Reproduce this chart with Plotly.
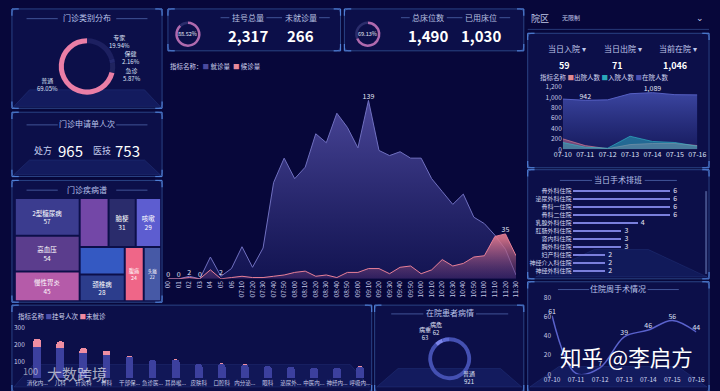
import plotly.graph_objects as go

W, H = 720, 391
BG = "#07073a"
PANEL_FILL = "rgba(16,22,86,0.55)"
BORDER = "#2a4384"
TXT = "#c3cbee"
FONT = "Noto Sans CJK SC"

# ---------------- data ----------------
clinic_types = ["专家", "保健", "急诊", "普通"]
clinic_type_pct = [19.94, 2.16, 5.87, 69.05]

kpi_reg_labels = ["挂号总量", "未就诊量"]
kpi_reg_values = [2317, 266]
kpi_reg_rate = 88.52
kpi_bed_labels = ["总床位数", "已用床位"]
kpi_bed_values = [1490, 1030]
kpi_bed_rate = 69.13

apply_labels = ["处方", "医技"]
apply_values = [965, 753]

disease_names = ["2型糖尿病", "高血压", "慢性胃炎", "冠心病", "脑梗", "咳嗽",
                 "上呼吸道感染", "颈椎病", "腹痛", "头痛"]
disease_values = [57, 54, 45, 33, 31, 29, 29, 28, 24, 22]
disease_show = [True, True, True, False, True, True, False, True, True, True]

times = ["00", "01", "02", "03", "04", "05", "06", "07:10", "07:20", "07:30",
         "07:40", "07:50", "08:00", "08:10", "08:20", "08:30", "08:40", "08:50",
         "09:00", "09:10", "09:20", "09:30", "09:40", "09:50", "10:00", "10:10",
         "10:20", "10:30", "10:40", "10:50", "11:00", "11:10", "11:20", "11:30"]
visits = [0, 0, 2, 0, 17, 2, 8, 25, 9, 24, 75, 94, 78, 87, 113, 106, 129, 118,
          102, 139, 100, 96, 99, 94, 94, 78, 68, 58, 66, 48, 43, 34, 23, 3]
waiting = [0, 0, 1, 0, 7, 0, 1, 2, 1, 1, 2, 3, 5, 6, 2, 3, 1, 5, 5, 8, 8, 4, 9,
           10, 4, 7, 15, 10, 12, 17, 18, 33, 35, 18]
visits_label_idx = [0, 1, 2, 3, 5, 19]
waiting_label_idx = [32]

today_labels = ["当日入院", "当日出院", "当前在院"]
today_values = [59, 71, 1046]
days = ["07-10", "07-11", "07-12", "07-13", "07-14", "07-15", "07-16"]
inpatients = [965, 942, 950, 1068, 1089, 1050, 1046]
discharged = [200, 70, 10, 90, 110, 110, 71]
admitted = [130, 40, 20, 250, 150, 130, 59]
inpatient_label_idx = [1, 4]

surg_depts = ["骨外科住院", "泌尿外科住院", "骨科一住院", "骨科二住院", "乳腺外科住院",
              "肛肠外科住院", "肾内科住院", "胸外科住院", "妇产科住院", "神经介入科住院", "神经外科住院"]
surg_ops = [6, 6, 6, 6, 4, 3, 3, 3, 2, 2, 2]

week_ops = [61, 1, 7, 39, 46, 56, 44]
week_label_hide = [1]

dept_names = ["消化内...", "儿科", "针灸科", "骨科", "干部保...", "急诊医...", "耳鼻喉...",
              "皮肤科", "口腔科", "内分泌...", "眼科", "泌尿外...", "中医内...", "神经内...", "呼吸内..."]
registered = [183, 179, 150, 139, 128, 107, 106, 83, 83, 80, 72, 67, 61, 61, 67]
not_seen = [50, 39, 28, 24, 3, 3, 6, 0, 5, 3, 0, 2, 0, 0, 3]

cond_labels = ["普通", "病重", "病危"]
cond_values = [921, 63, 62]

# ---------------- helpers ----------------
def X(px):
    return px / W


def Y(py):
    return 1 - py / H


shapes = []
annotations = []


def ann(x, y, text, size=7, color=TXT, xanchor="center", yanchor="middle", family=FONT):
    annotations.append(dict(x=X(x), y=Y(y), xref="paper", yref="paper", text=text,
                            showarrow=False, font=dict(size=size, color=color, family=family),
                            xanchor=xanchor, yanchor=yanchor))


def hline(x0, x1, y, color="rgba(110,140,215,0.55)", width=1):
    shapes.append(dict(type="line", xref="paper", yref="paper", x0=X(x0), x1=X(x1),
                       y0=Y(y), y1=Y(y), line=dict(color=color, width=width), layer="below"))


def panel(x0, y0, x1, y1, r=4):
    path = (f"M {X(x0 + r)},{Y(y0)} L {X(x1 - r)},{Y(y0)} Q {X(x1)},{Y(y0)} {X(x1)},{Y(y0 + r)} "
            f"L {X(x1)},{Y(y1 - r)} Q {X(x1)},{Y(y1)} {X(x1 - r)},{Y(y1)} "
            f"L {X(x0 + r)},{Y(y1)} Q {X(x0)},{Y(y1)} {X(x0)},{Y(y1 - r)} "
            f"L {X(x0)},{Y(y0 + r)} Q {X(x0)},{Y(y0)} {X(x0 + r)},{Y(y0)} Z")
    shapes.append(dict(type="path", path=path, xref="paper", yref="paper",
                       fillcolor=PANEL_FILL, line=dict(color=BORDER, width=1), layer="below"))
    c = "#4f7fd6"
    for (cx, cy, dx, dy) in [(x0, y0, 1, 1), (x1, y0, -1, 1), (x0, y1, 1, -1), (x1, y1, -1, -1)]:
        shapes.append(dict(type="line", xref="paper", yref="paper", x0=X(cx), x1=X(cx + 7 * dx),
                           y0=Y(cy), y1=Y(cy), line=dict(color=c, width=1.2), layer="below"))
        shapes.append(dict(type="line", xref="paper", yref="paper", x0=X(cx), x1=X(cx),
                           y0=Y(cy), y1=Y(cy + 7 * dy), line=dict(color=c, width=1.2), layer="below"))


def floor(x0, x1, ytop, ybot, inset=16, alpha=0.22):
    path = (f"M {X(x0 + inset)},{Y(ytop)} L {X(x1 - inset)},{Y(ytop)} "
            f"L {X(x1)},{Y(ybot)} L {X(x0)},{Y(ybot)} Z")
    shapes.append(dict(type="path", path=path, xref="paper", yref="paper",
                       fillcolor=f"rgba(45,75,170,{alpha})", line=dict(color="rgba(80,120,210,0.25)", width=0.6),
                       layer="below"))


def title(xc, y, text, half=62, gap=30):
    ann(xc, y, text, size=8, color="#b9c3ea")
    hline(xc - half, xc - gap, y + 1)
    hline(xc + gap, xc + half, y + 1)


# ---------------- panels ----------------
panel(3, 3, 157, 105)
panel(163, 3, 340, 46)
panel(344, 3, 528, 46)
panel(3, 109, 157, 175)
panel(3, 179, 157, 304)
panel(532, 28, 718, 166)
panel(532, 168, 718, 280)
panel(532, 283, 718, 396)
panel(3, 307, 372, 396)
panel(375, 307, 528, 396)
hline(532, 718, 24, color="rgba(60,90,160,0.6)")

floor(5, 155, 86, 103)
floor(5, 155, 158, 173)
floor(540, 716, 250, 278, inset=60, alpha=0.18)
floor(534, 716, 370, 391, inset=30)
floor(377, 526, 372, 391, inset=22)
floor(5, 370, 368, 391, inset=20, alpha=0.15)

fig = go.Figure()

# ---------------- 门诊类别分布 ----------------
title(80, 12, "门诊类别分布")
fig.add_trace(go.Pie(labels=clinic_types, values=clinic_type_pct, hole=0.82, sort=False,
                     direction="clockwise", rotation=0, textinfo="none", textposition="none",
                     marker=dict(colors=["#1d2060", "#252a6e", "#20245f", "#ea7ea6"], line=dict(width=0)),
                     domain=dict(x=[X(51), X(109)], y=[Y(91), Y(33)]), showlegend=False))
pie_lbl_pos = [(113, 36), (125, 53), (126, 70), (39, 81)]
for name, pct, (lx, ly) in zip(clinic_types, clinic_type_pct, pie_lbl_pos):
    ann(lx, ly, f"{name}<br>{pct:.2f}%", size=6, color="#dfe3f8")

# ---------------- KPI cards ----------------
def kpi(cx_donut, rate, labels, values, lx):
    fig.add_trace(go.Pie(values=[rate, 100 - rate], hole=0.8, sort=False, direction="clockwise",
                         rotation=0, textinfo="none", textposition="none",
                         marker=dict(colors=["#b06aae", "#2b2d6c"], line=dict(width=0)),
                         domain=dict(x=[X(cx_donut - 13), X(cx_donut + 13)], y=[Y(42), Y(16)]),
                         showlegend=False))
    ann(cx_donut, 29, f"{rate:.2f}%", size=5.5, color="#e8e8f8")
    for lab, val, x in zip(labels, values, lx):
        ann(x, 12, lab, size=8, color="#b8c0e0")
        ann(x, 30, f"<b>{val:,}</b>", size=15, color="#ffffff")
    hline(lx[0] - 28, lx[0] - 19, 12)
    hline(lx[0] + 19, lx[1] - 19, 12)
    hline(lx[1] + 19, lx[1] + 30, 12)


kpi(183.5, kpi_reg_rate, kpi_reg_labels, kpi_reg_values, [245, 299])
kpi(368, kpi_bed_rate, kpi_bed_labels, kpi_bed_values, [430, 484])

# ---------------- 门诊申请单人次 ----------------
title(80, 121, "门诊申请单人次")
ann(35, 148, apply_labels[0], size=9, color="#c8d0f0")
ann(48, 148, f"{apply_values[0]}", size=15, color="#ffffff", xanchor="left")
ann(95, 148, apply_labels[1], size=9, color="#c8d0f0")
ann(107, 148, f"{apply_values[1]}", size=15, color="#ffffff", xanchor="left")

# ---------------- 门诊疾病谱 treemap ----------------
title(80, 188, "门诊疾病谱")
root = "门诊疾病谱"
tm_colors = ["rgba(0,0,0,0)", "#3b3c8f", "#5b3d8d", "#b55ba9", "#7347a7", "#2a2c6c",
             "#5d5dd0", "#3459c2", "#2c3d8c", "#ef6688", "#4659a6"]
tm_text = [""] + ["%{label}<br>%{value}" if s else "" for s in disease_show]
fig.add_trace(go.Treemap(labels=[root] + disease_names, parents=[""] + [root] * len(disease_names),
                         values=[0] + disease_values, branchvalues="remainder",
                         texttemplate=tm_text, textposition="middle center",
                         textfont=dict(size=6.5, color="#ffffff", family=FONT),
                         marker=dict(colors=tm_colors, line=dict(width=0), pad=dict(t=0, l=0, r=0, b=0)),
                         tiling=dict(packing="squarify", squarifyratio=1.618, pad=2),
                         pathbar=dict(visible=False), sort=True,
                         domain=dict(x=[X(7), X(155)], y=[Y(302), Y(198)])))

# ---------------- main area chart ----------------
ann(163, 62, "指标名称：<span style='color:#4a4a9e'>■</span> 就诊量  <span style='color:#e88a9a'>■</span> 候诊量",
    size=6.5, color="#d0d4f0", xanchor="left")
fig.add_trace(go.Scatter(x=times, y=visits, mode="lines+text",
                         text=[str(v) if i in visits_label_idx else "" for i, v in enumerate(visits)],
                         textposition="top center", textfont=dict(size=7, color="#e4e6f6"),
                         line=dict(color="#7070c0", width=1), fill="tozeroy",
                         fillgradient=dict(type="vertical", start=0, stop=139,
                                           colorscale=[[0, "rgba(22,24,90,0.7)"], [1, "rgba(78,74,158,0.95)"]]),
                         xaxis="x", yaxis="y", showlegend=False, cliponaxis=False))
fig.add_trace(go.Scatter(x=times, y=waiting, mode="lines+text",
                         text=[str(v) if i in waiting_label_idx else "" for i, v in enumerate(waiting)],
                         textposition="top center", textfont=dict(size=7, color="#e4e6f6"),
                         line=dict(color="#e88098", width=1), fill="tozeroy",
                         fillgradient=dict(type="vertical", start=0, stop=35,
                                           colorscale=[[0, "rgba(70,40,110,0.35)"], [1, "rgba(225,120,140,0.9)"]]),
                         xaxis="x", yaxis="y", showlegend=False, cliponaxis=False))

# ---------------- right top ----------------
ann(545, 13, "院区", size=9, color="#c0c8e8")
ann(565, 12, "无限制", size=6, color="#c0c8e8", xanchor="left")
ann(709, 12, "⌄", size=9, color="#c0c8e8")
for lab, x in zip(today_labels, [572, 630, 686]):
    ann(x, 44, f"{lab} ▾", size=8, color="#c0c8ec")
for val, x in zip(today_values, [570, 624, 683]):
    ann(x, 61, f"<b>{val:,}</b>", size=9, color="#ffffff")
ann(543, 73, "指标名称 <span style='color:#e08a90'>■</span>出院人数 <span style='color:#2aa8b8'>■</span>入院人数 "
    "<span style='color:#4a50b0'>■</span>在院人数", size=6.5, color="#d0d4f0", xanchor="left")

fig.add_trace(go.Scatter(x=days, y=inpatients, mode="lines+text",
                         text=[f"{v:,}" if i in inpatient_label_idx else "" for i, v in enumerate(inpatients)],
                         textposition="top center", textfont=dict(size=7, color="#e4e6f6"),
                         line=dict(color="#5660c4", width=1), fill="tozeroy",
                         fillgradient=dict(type="vertical", start=0, stop=1089,
                                           colorscale=[[0, "rgba(25,30,100,0.8)"], [1, "rgba(62,72,165,0.95)"]]),
                         xaxis="x2", yaxis="y2", showlegend=False, cliponaxis=False))
fig.add_trace(go.Scatter(x=days, y=discharged, mode="lines", line=dict(color="rgba(220,130,150,0.8)", width=0.8),
                         fill="tozeroy", fillcolor="rgba(190,105,140,0.55)",
                         xaxis="x2", yaxis="y2", showlegend=False))
fig.add_trace(go.Scatter(x=days, y=admitted, mode="lines", line=dict(color="rgba(50,185,200,0.8)", width=0.8),
                         fill="tozeroy", fillcolor="rgba(40,165,185,0.55)",
                         xaxis="x2", yaxis="y2", showlegend=False))

# ---------------- 当日手术排班 ----------------
title(625, 178, "当日手术排班", half=60, gap=27)
fig.add_trace(go.Bar(x=surg_ops, y=surg_depts, orientation="h", width=0.28,
                     marker=dict(color="#7a7fdc", line=dict(width=0)),
                     xaxis="x3", yaxis="y3", showlegend=False))
fig.add_trace(go.Scatter(x=surg_ops, y=surg_depts, mode="text", text=[f"  {v}" for v in surg_ops],
                         textposition="middle right", textfont=dict(size=7, color="#e8e8f8"),
                         cliponaxis=False, xaxis="x3", yaxis="y3", showlegend=False))
shapes.append(dict(type="line", xref="paper", yref="paper", x0=X(715), x1=X(715), y0=Y(190), y1=Y(275),
                   line=dict(color="rgba(120,140,200,0.5)", width=2)))

# ---------------- 住院周手术情况 ----------------
title(625, 290, "住院周手术情况", half=62, gap=30)
fig.add_trace(go.Scatter(x=days, y=week_ops, mode="lines+text", line=dict(color="#5a62cc", width=1.5, shape="spline"),
                         text=["" if i in week_label_hide else str(v) for i, v in enumerate(week_ops)],
                         textposition="top center", textfont=dict(size=7, color="#dfe2f6"),
                         xaxis="x4", yaxis="y4", showlegend=False, cliponaxis=False))

# ---------------- bottom bar chart ----------------
ann(7, 318, "指标名称 <span style='color:#4a4ea8'>■</span>挂号人次 <span style='color:#f08aa0'>■</span>未就诊",
    size=6.5, color="#d0d4f0", xanchor="left")
fig.add_trace(go.Bar(x=dept_names, y=registered, width=0.34, marker=dict(color="#3c409e", line=dict(width=0)),
                     xaxis="x5", yaxis="y5", showlegend=False))
fig.add_trace(go.Bar(x=dept_names, y=not_seen, width=0.34,
                     marker=dict(color="#f08ea2", line=dict(width=0), cornerradius=4),
                     xaxis="x5", yaxis="y5", showlegend=False))

# ---------------- 在院患者病情 ----------------
title(452, 315, "在院患者病情", half=60, gap=27)
fig.add_trace(go.Pie(labels=cond_labels, values=cond_values, hole=0.82, sort=False, direction="clockwise",
                     rotation=0, textinfo="none", textposition="none",
                     marker=dict(colors=["#4450b2", "#7b84ea", "#5b68d2"], line=dict(width=0)),
                     domain=dict(x=[X(430), X(474)], y=[Y(384), Y(340)]), showlegend=False))
for lab, val, (lx, ly) in zip(cond_labels, cond_values, [(472, 381), (427, 336), (438, 331)]):
    ann(lx, ly, f"{lab}<br>{val}", size=6, color="#e0e4f8")

# ---------------- watermarks ----------------
ann(633, 360, "知乎 @李启方", size=21.5, color="#ffffff")
ann(37, 377, "大数跨境", size=15, color="rgba(255,255,255,0.65)", xanchor="left")
ann(22, 375, "100", size=9, color="rgba(255,255,255,0.55)")

# ---------------- layout ----------------
base_axis = dict(showgrid=False, zeroline=False, showline=False, ticks="", fixedrange=True)

fig.update_layout(
    width=W, height=H, margin=dict(l=0, r=0, t=0, b=0),
    paper_bgcolor=BG, plot_bgcolor="rgba(0,0,0,0)",
    font=dict(family=FONT, color=TXT), showlegend=False, barmode="stack",
    shapes=shapes, annotations=annotations, hovermode=False,
    xaxis=dict(base_axis, type="category", range=[0, len(times) - 1], domain=[X(163.3), X(520)],
               tickangle=-90, tickfont=dict(size=6.5, color="#c8cce8", family=FONT), anchor="y"),
    yaxis=dict(base_axis, range=[0, 148], domain=[Y(280), Y(85)], visible=False, anchor="x"),
    xaxis2=dict(base_axis, type="category", range=[0, 6], domain=[X(568), X(706)], tickangle=0,
                tickfont=dict(size=7, color="#dde0f6", family=FONT), anchor="y2"),
    yaxis2=dict(base_axis, range=[0, 1200], domain=[Y(147), Y(83)], tickvals=[0, 200, 400, 600, 800, 1000, 1200],
                tickformat=",", tickfont=dict(size=6.5, color="#c8cce8", family=FONT), anchor="x2"),
    xaxis3=dict(base_axis, range=[0, 8.4], domain=[X(578), X(718)], visible=False, anchor="y3"),
    yaxis3=dict(base_axis, type="category", range=[len(surg_depts) - 0.5, -0.5], domain=[Y(276), Y(186)],
                tickfont=dict(size=6, color="#d4d8f2", family=FONT), anchor="x3"),
    xaxis4=dict(base_axis, type="category", range=[0, 6], domain=[X(557), X(705)], tickangle=0,
                tickfont=dict(size=6.5, color="#d0d4f0", family=FONT), anchor="y4"),
    yaxis4=dict(base_axis, range=[0, 80], domain=[Y(378), Y(299)], tickvals=[0, 20, 40, 60, 80],
                tickfont=dict(size=6.5, color="#c8cce8", family=FONT), anchor="x4"),
    xaxis5=dict(base_axis, type="category", range=[-0.5, len(dept_names) - 0.5], domain=[X(17.2), X(371.8)],
                tickangle=0, tickfont=dict(size=5.5, color="#c8cce8", family=FONT), anchor="y5"),
    yaxis5=dict(base_axis, range=[0, 312], domain=[Y(382), Y(328)], tickvals=[100, 200, 300],
                tickfont=dict(size=6.5, color="#c8cce8", family=FONT), anchor="x5"),
)

fig.write_html("out.html", config={"displayModeBar": False, "staticPlot": True},
               post_script="document.body.style.margin='0';document.body.style.overflow='hidden';")
